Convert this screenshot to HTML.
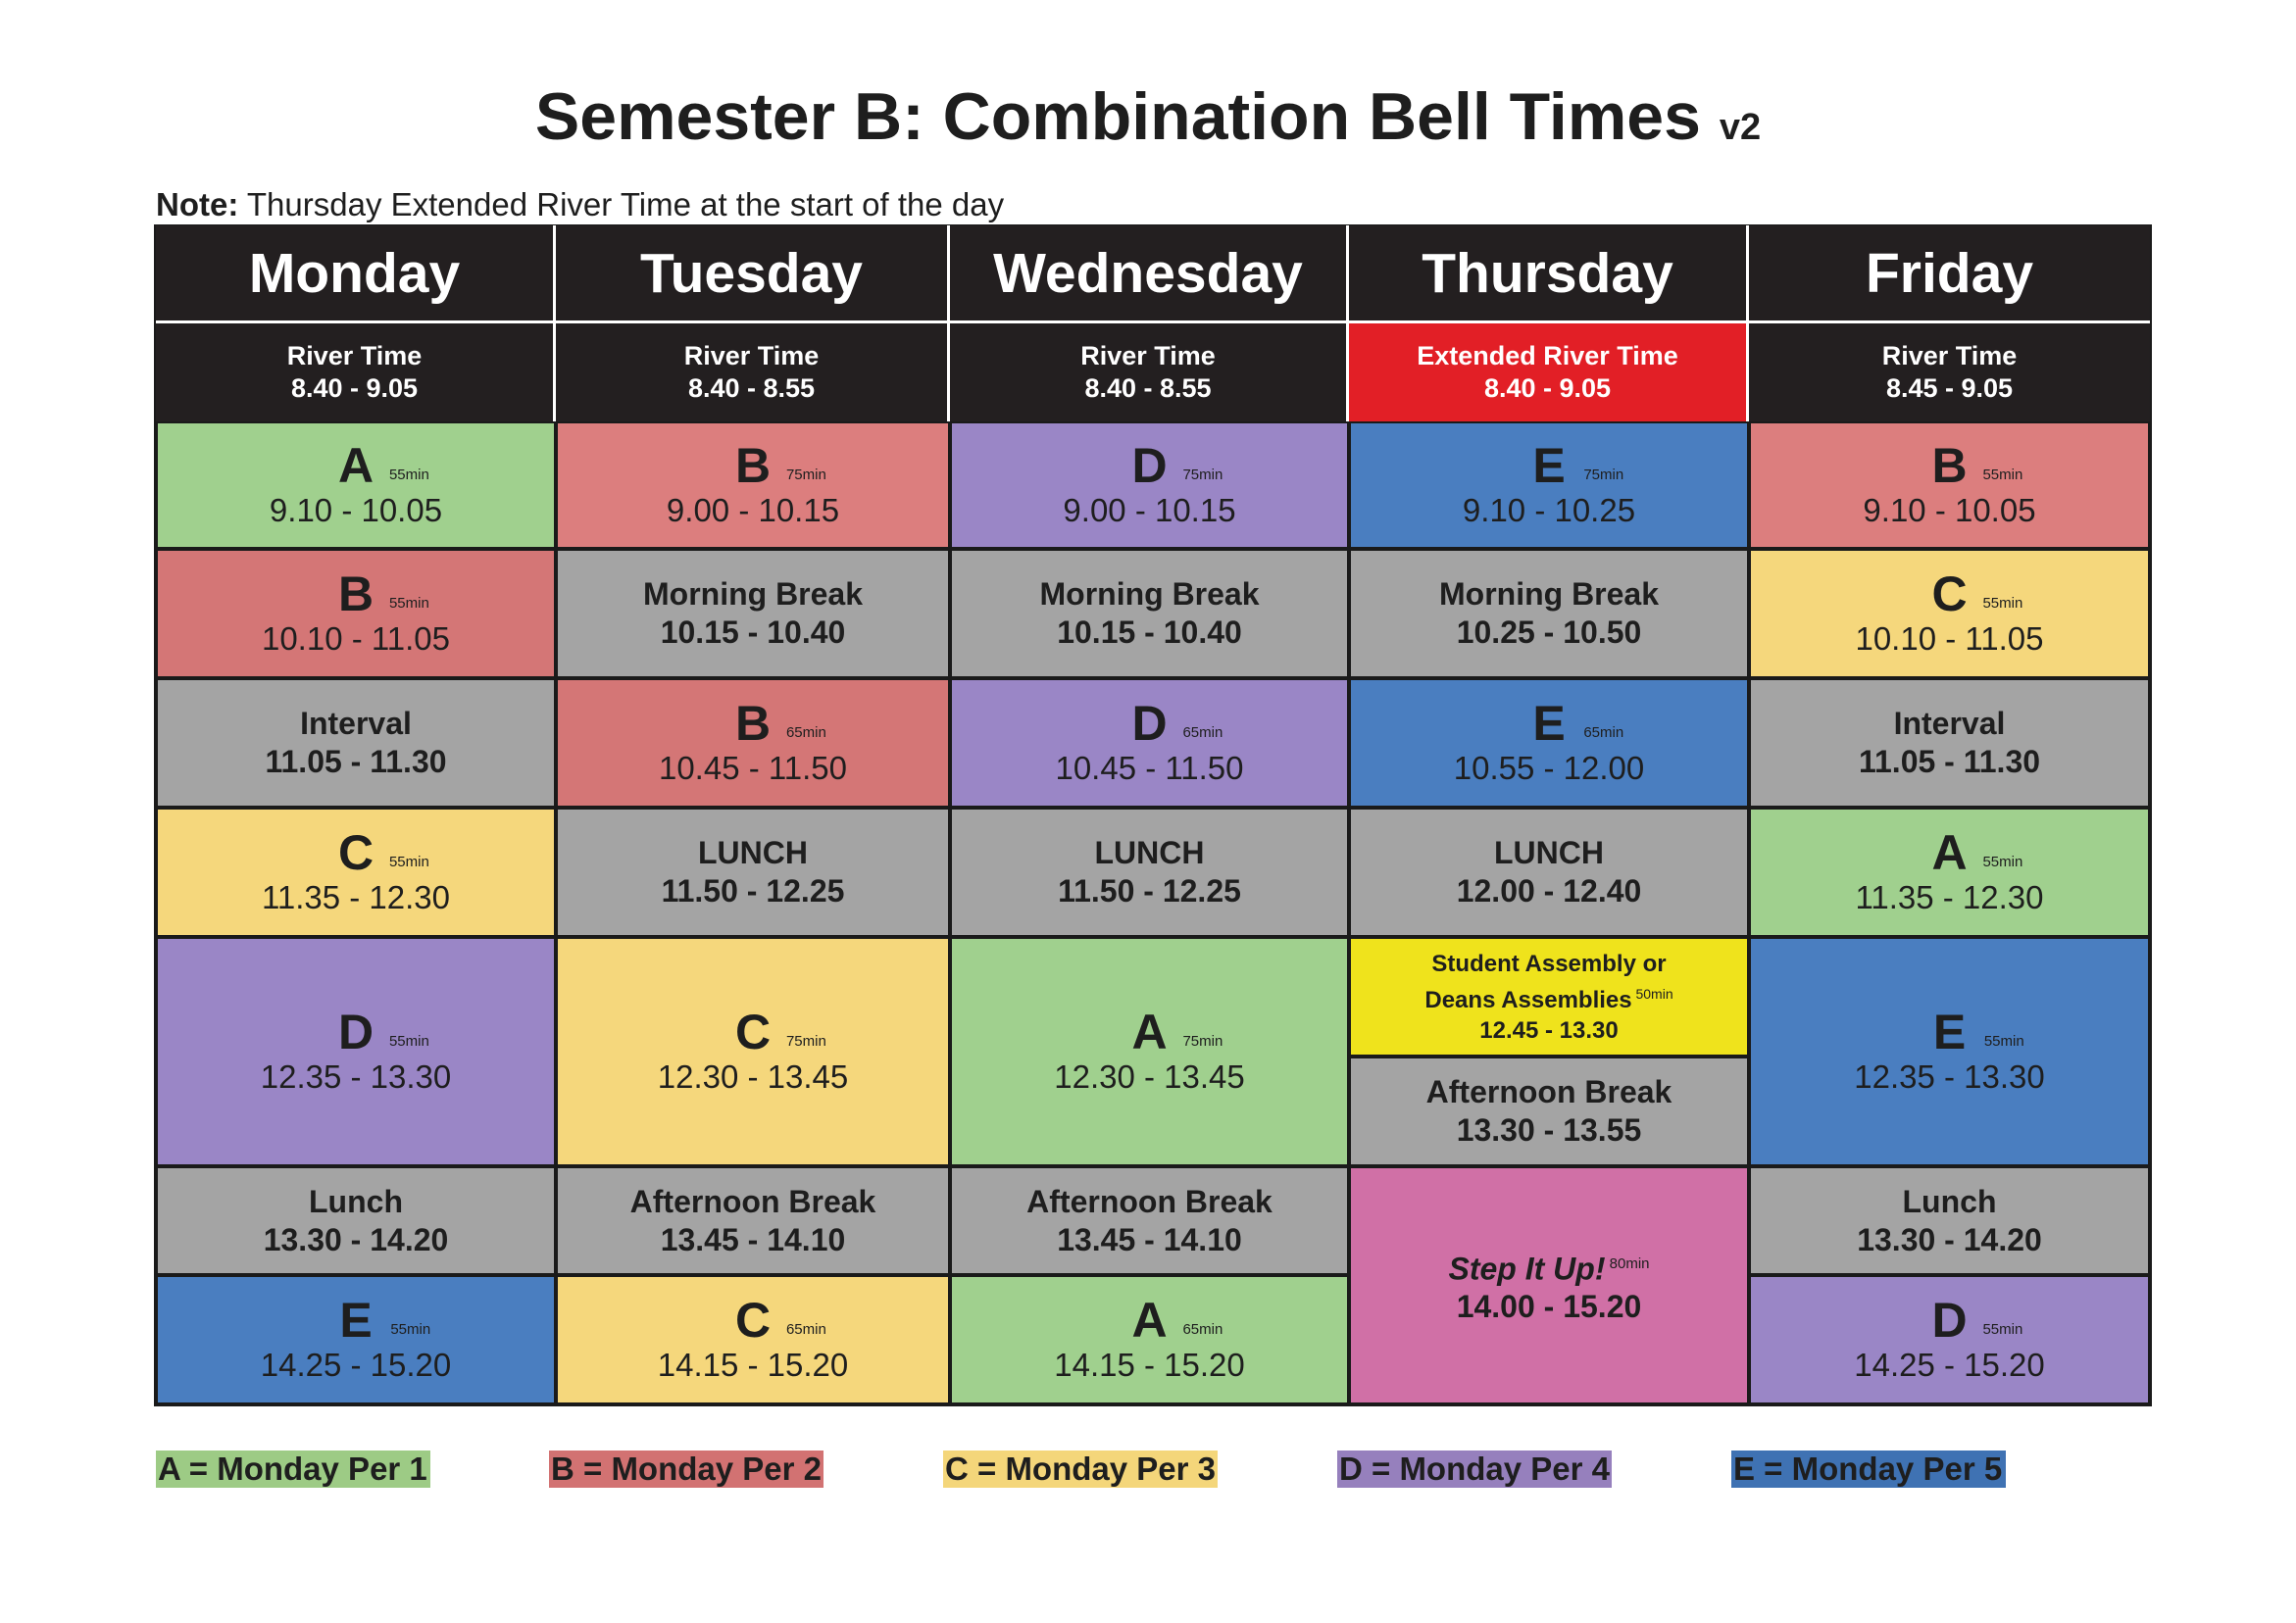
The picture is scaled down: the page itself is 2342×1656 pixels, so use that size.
<!DOCTYPE html>
<html><head><meta charset="utf-8">
<style>
body{margin:0;background:#fff;}
#page{position:relative;width:2342px;height:1656px;background:#fff;font-family:"Liberation Sans",Arial,sans-serif;color:#1e1e1e;overflow:hidden}
.abs{position:absolute}
.cell{position:absolute;box-sizing:border-box;border:2px solid #1a1a1a;display:flex;flex-direction:column;align-items:center;justify-content:center;text-align:center}
.hd{background:#231f20;color:#fff;border:none}
.per .l{font-size:50px;font-weight:bold;line-height:52px;position:relative}
.per .l sup{font-size:15px;font-weight:normal;position:absolute;left:52px;top:10px;white-space:nowrap}
.per .t{font-size:33px;line-height:40px}
.brk{font-size:32px;font-weight:bold;line-height:39px}
.leg{position:absolute;top:1480px;height:38px;width:280px;font-size:33px;font-weight:bold;line-height:38px;padding-left:2px;box-sizing:border-box;white-space:nowrap}
</style></head><body>
<div id="page">
<div class="abs" style="left:0;width:2342px;top:80px;text-align:center;font-size:68px;font-weight:bold;color:#1e1e1e">Semester B: Combination Bell Times <span style="font-size:38px">v2</span></div>
<div class="abs" style="left:159px;top:190px;font-size:33px"><b>Note:</b> Thursday Extended River Time at the start of the day</div>
<div class="abs" style="left:157px;top:229px;width:2038px;height:1206px;background:#1a1a1a"></div>
<div id="grid"></div>
<div class="leg" style="left:159px;background:#9dcb85">A = Monday Per 1</div>
<div class="leg" style="left:560px;background:#d27272">B = Monday Per 2</div>
<div class="leg" style="left:962px;background:#f4d67a">C = Monday Per 3</div>
<div class="leg" style="left:1364px;background:#9680bd">D = Monday Per 4</div>
<div class="leg" style="left:1766px;background:#3f72b3">E = Monday Per 5</div>
</div>
<script>
const xs=[159,567,969,1376,1784,2193];
const days=["Monday","Tuesday","Wednesday","Thursday","Friday"];
const river=[["River Time","8.40 - 9.05"],["River Time","8.40 - 8.55"],["River Time","8.40 - 8.55"],["Extended River Time","8.40 - 9.05"],["River Time","8.45 - 9.05"]];
const col={A:"#a0d08e",B:"#dc7e7e",B2:"#d47676",C:"#f5d77c",D:"#9a86c6",E:"#4a7ec0",G:"#a4a4a4",Y:"#efe31c",P:"#d070a6"};
// [col,y0,y1,type,a,b,min]
const cells=[
[0,430,560,"p","A","9.10 - 10.05","55min"],[0,560,692,"p","B","10.10 - 11.05","55min","B2"],[0,692,824,"g","Interval","11.05 - 11.30"],[0,824,956,"p","C","11.35 - 12.30","55min"],[0,956,1190,"p","D","12.35 - 13.30","55min"],[0,1190,1301,"g","Lunch","13.30 - 14.20"],[0,1301,1433,"p","E","14.25 - 15.20","55min"],
[1,430,560,"p","B","9.00 - 10.15","75min"],[1,560,692,"g","Morning Break","10.15 - 10.40"],[1,692,824,"p","B","10.45 - 11.50","65min","B2"],[1,824,956,"g","LUNCH","11.50 - 12.25"],[1,956,1190,"p","C","12.30 - 13.45","75min"],[1,1190,1301,"g","Afternoon Break","13.45 - 14.10"],[1,1301,1433,"p","C","14.15 - 15.20","65min"],
[2,430,560,"p","D","9.00 - 10.15","75min"],[2,560,692,"g","Morning Break","10.15 - 10.40"],[2,692,824,"p","D","10.45 - 11.50","65min"],[2,824,956,"g","LUNCH","11.50 - 12.25"],[2,956,1190,"p","A","12.30 - 13.45","75min"],[2,1190,1301,"g","Afternoon Break","13.45 - 14.10"],[2,1301,1433,"p","A","14.15 - 15.20","65min"],
[3,430,560,"p","E","9.10 - 10.25","75min"],[3,560,692,"g","Morning Break","10.25 - 10.50"],[3,692,824,"p","E","10.55 - 12.00","65min"],[3,824,956,"g","LUNCH","12.00 - 12.40"],[3,956,1078,"y","","12.45 - 13.30","50min"],[3,1078,1190,"g","Afternoon Break","13.30 - 13.55"],[3,1190,1433,"s","Step It Up!","14.00 - 15.20","80min"],
[4,430,560,"p","B","9.10 - 10.05","55min"],[4,560,692,"p","C","10.10 - 11.05","55min"],[4,692,824,"g","Interval","11.05 - 11.30"],[4,824,956,"p","A","11.35 - 12.30","55min"],[4,956,1190,"p","E","12.35 - 13.30","55min"],[4,1190,1301,"g","Lunch","13.30 - 14.20"],[4,1301,1433,"p","D","14.25 - 15.20","55min"]
];
const g=document.getElementById('grid');
function box(x0,y0,x1,y1){const d=document.createElement('div');d.className='cell';d.style.left=x0+'px';d.style.top=y0+'px';d.style.width=(x1-x0)+'px';d.style.height=(y1-y0)+'px';g.appendChild(d);return d;}
days.forEach((dn,i)=>{
 const h=box(xs[i],230,xs[i+1],330);h.classList.add('hd');
 
 
 h.style.borderRight=i<4?'3px solid #fff':'none';h.style.borderBottom='3px solid #fff';
 h.innerHTML='<div style="font-size:57px;font-weight:bold">'+dn+'</div>';
 const r=box(xs[i],330,xs[i+1],430);r.classList.add('hd');
 
 
 r.style.borderRight=i<4?'3px solid #fff':'none';
 if(i==3)r.style.background='#e21f26';
 r.innerHTML='<div style="font-size:27px;font-weight:bold;line-height:33px">'+river[i][0]+'<br>'+river[i][1]+'</div>';
});
cells.forEach(c=>{
 const [ci,y0,y1,t,a,b,m,ck]=c;
 const d=box(xs[ci],y0,xs[ci+1],y1);
 
 
 if(t=="p"){d.classList.add('per');d.style.background=col[ck||a];d.innerHTML='<div class="l">'+a+'<sup>'+m+'</sup></div><div class="t">'+b+'</div>';}
 else if(t=="g"){d.style.background=col.G;d.innerHTML='<div class="brk">'+a+'<br>'+b+'</div>';}
 else if(t=="y"){d.style.background=col.Y;d.innerHTML='<div style="font-size:24px;font-weight:bold;line-height:31px">Student Assembly or<br>Deans Assemblies<sup style="font-size:14px;font-weight:normal"> '+m+'</sup><br>12.45 - 13.30</div>';}
 else {d.style.background=col.P;d.innerHTML='<div class="brk"><i>'+a+'</i><sup style="font-size:15px;font-weight:normal"> '+m+'</sup><br>'+b+'</div>';}
});
</script>
</body></html>
